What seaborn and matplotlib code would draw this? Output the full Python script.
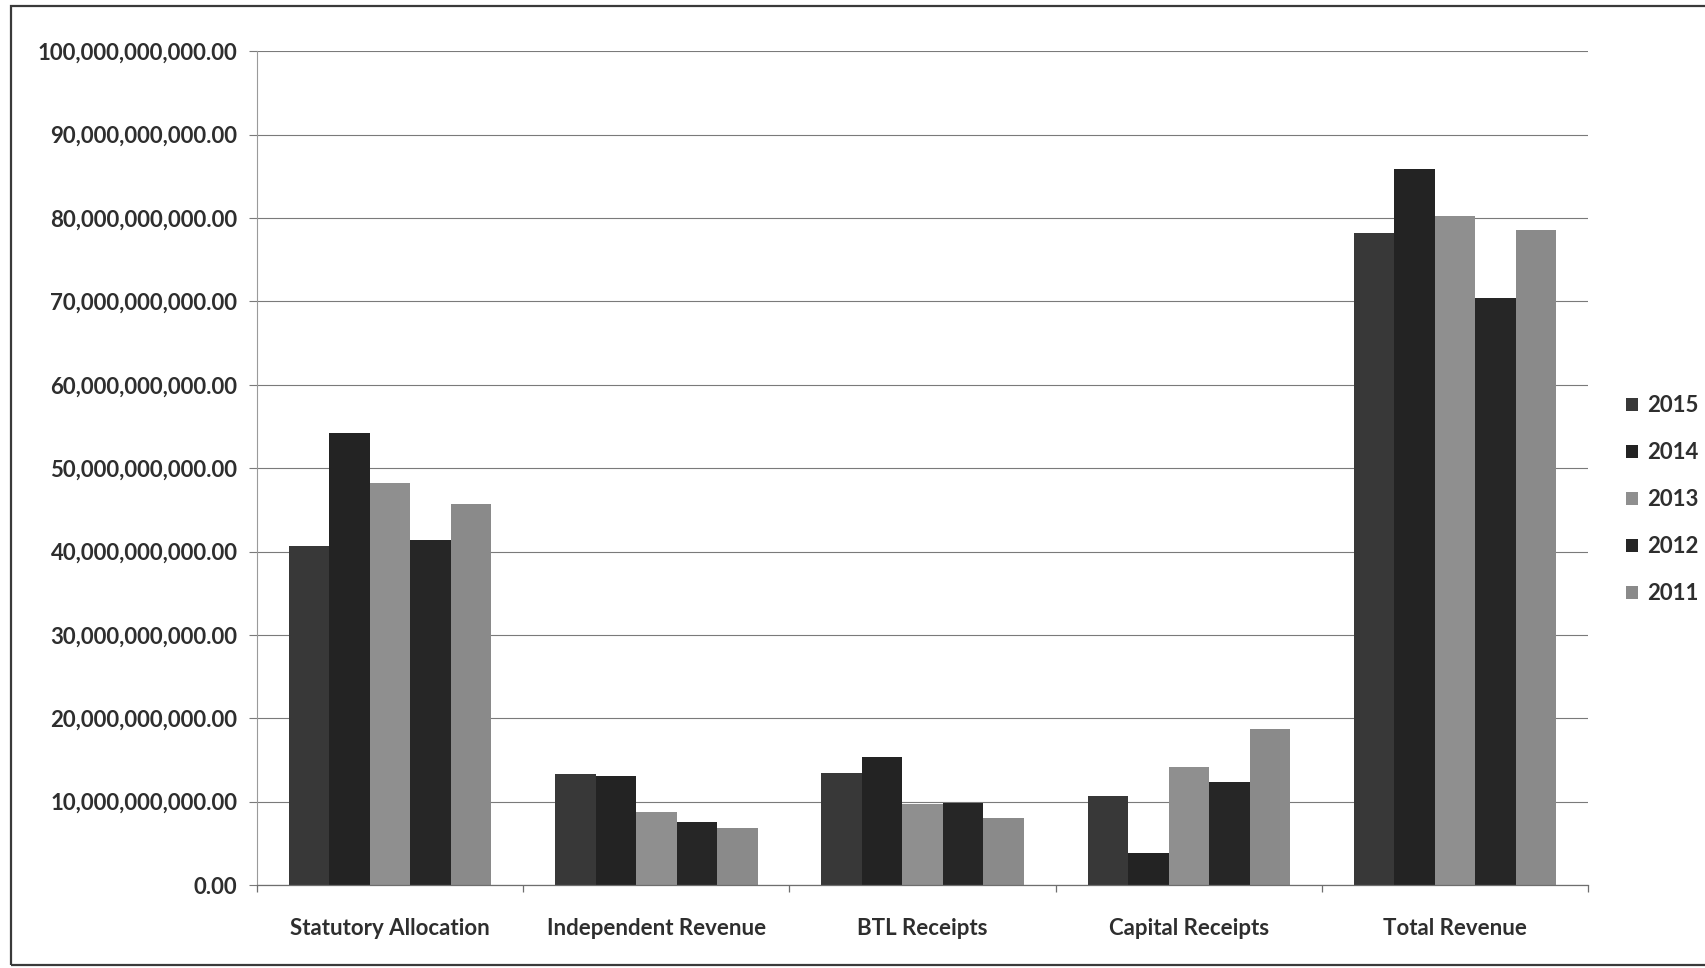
import matplotlib
matplotlib.use("Agg")
import matplotlib.pyplot as plt
from matplotlib.patches import Rectangle, Patch
from matplotlib.ticker import FuncFormatter, MultipleLocator, FixedLocator
import seaborn as sns
import pandas as pd

# Revenue by source and year (naira)
categories = ["Statutory Allocation", "Independent Revenue", "BTL Receipts",
              "Capital Receipts", "Total Revenue"]
years = ["2015", "2014", "2013", "2012", "2011"]
values_2015 = [40.7e9, 13.3e9, 13.4e9, 10.7e9, 78.2e9]
values_2014 = [54.2e9, 13.05e9, 15.4e9, 3.9e9, 85.9e9]
values_2013 = [48.2e9, 8.75e9, 9.7e9, 14.1e9, 80.3e9]
values_2012 = [41.4e9, 7.6e9, 9.9e9, 12.3e9, 70.4e9]
values_2011 = [45.7e9, 6.8e9, 8.0e9, 18.7e9, 78.6e9]

series = dict(zip(years, [values_2015, values_2014, values_2013, values_2012, values_2011]))
rows = []
for yr in years:
    for cat, v in zip(categories, series[yr]):
        rows.append({"Category": cat, "Year": yr, "Value": v})
df = pd.DataFrame(rows)

colors = ["#383838", "#232323", "#8f8f8f", "#262626", "#8a8a8a"]
text_color = "#2e2e2e"

sns.set_theme(style="white")
plt.rcParams["font.family"] = ["Lato", "DejaVu Sans"]

fig = plt.figure(figsize=(17.06, 9.68), dpi=100)
fig.patch.set_facecolor("white")
ax = fig.add_axes([0.1506, 0.0857, 0.7804, 0.8613])

sns.barplot(data=df, x="Category", y="Value", hue="Year", hue_order=years,
            palette=colors, width=0.76, gap=0, saturation=1, ax=ax,
            legend=False, edgecolor="none", linewidth=0)

ax.set_ylim(0, 100e9)
ax.set_xlim(-0.5, len(categories) - 0.5)
ax.yaxis.set_major_locator(MultipleLocator(10e9))
ax.yaxis.set_major_formatter(FuncFormatter(lambda v, p: f"{v:,.2f}"))
ax.set_xlabel("")
ax.set_ylabel("")

ax.grid(axis="y", color="#7a7a7a", linewidth=0.8)
ax.set_axisbelow(True)
for side in ["top", "right"]:
    ax.spines[side].set_visible(False)
ax.spines["left"].set_color("#9a9a9a")
ax.spines["left"].set_linewidth(0.8)
ax.spines["bottom"].set_color("#6e6e6e")
ax.spines["bottom"].set_linewidth(0.9)

ax.tick_params(axis="y", which="major", length=6, color="#7a7a7a", width=0.8,
               labelsize=16, labelcolor=text_color, pad=8, left=True)
for lab in ax.get_yticklabels():
    lab.set_fontweight("bold")

# category labels, with tick marks on the group boundaries
ax.xaxis.set_minor_locator(FixedLocator([i - 0.5 for i in range(len(categories) + 1)]))
ax.tick_params(axis="x", which="major", length=0, labelsize=16,
               labelcolor=text_color, pad=24)
ax.tick_params(axis="x", which="minor", length=5, color="#6e6e6e", width=0.9, bottom=True)
for lab in ax.get_xticklabels():
    lab.set_fontweight("bold")

handles = [Patch(facecolor=c, edgecolor="none") for c in colors]
leg = fig.legend(handles, years, loc="upper left", bbox_to_anchor=(0.948, 0.601),
                 frameon=False, handlelength=0.55, handleheight=0.55,
                 handletextpad=0.4, labelspacing=1.17, borderaxespad=0,
                 prop={"size": 16, "weight": "bold"})
for t in leg.get_texts():
    t.set_color(text_color)

# page frame around the chart
fig.add_artist(Rectangle((0.0065, 0.003), 1.2, 0.991, transform=fig.transFigure,
                         fill=False, edgecolor="#3a3a3a", linewidth=1.6))

fig.savefig("out.png", dpi=100, facecolor="white")
